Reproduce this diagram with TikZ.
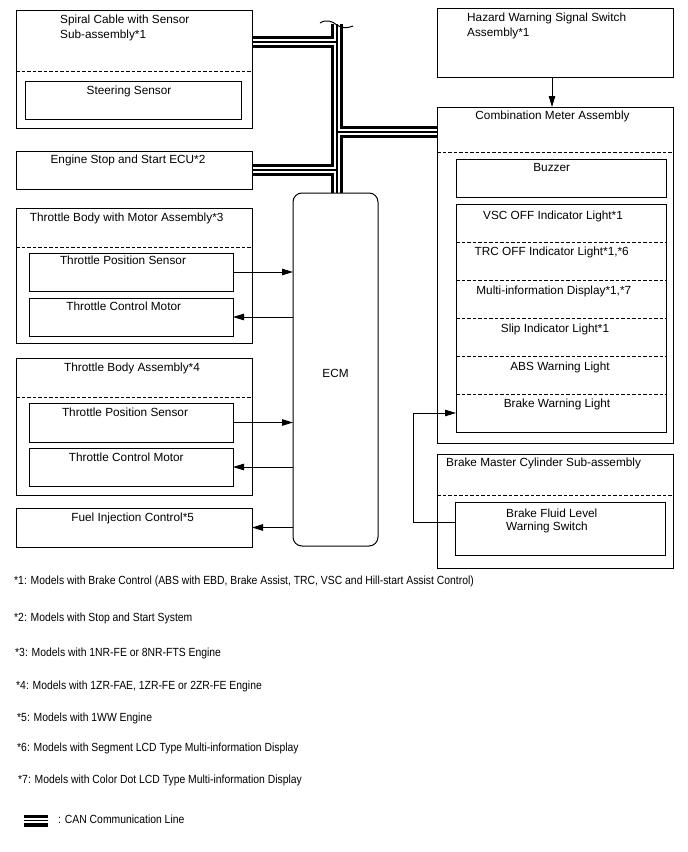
\documentclass[tikz,border=0pt]{standalone}
\usepackage{fontspec}
\setmainfont{Liberation Sans}
\newfontfamily\notefont[FakeStretch=0.88]{Liberation Sans}
\usepackage{tikz}
\usetikzlibrary{arrows.meta,positioning,calc,backgrounds}
\newcommand{\boxfont}{\fontsize{11.8}{15}\selectfont}
\newcommand{\fluidfont}{\fontsize{11.8}{13.3}\selectfont}
\tikzset{
    unitbox/.style={draw,line width=1pt,anchor=north west,inner sep=0pt,outer sep=0pt},
    lbl/.style={inner sep=0pt,anchor=base,font=\boxfont},
    lbll/.style={inner sep=0pt,anchor=north west,align=left,font=\boxfont},
    note/.style={inner sep=0pt,anchor=base west,font=\notefont\fontsize{11.8}{14}\selectfont},
    sect/.style={line width=0.8pt,dash pattern=on 3.5pt off 2pt},
    sig/.style={-{Triangle[length=11pt,width=6.5pt]},line width=0.9pt},
    canout/.style={line width=12pt},
    canin/.style={white,line width=5.6pt},
    cancore/.style={line width=1.5pt}
}

\begin{document}
\begin{tikzpicture}[x=1pt,y=-1pt]
    \useasboundingbox (0,0) rectangle (688,852);

    % left side units
    \node[unitbox,minimum width=236pt,minimum height=118pt] (spiral) at (16,10) {};
    \node[unitbox,minimum width=216pt,minimum height=38pt] (steer) at (25,81) {};
    \node[unitbox,minimum width=236pt,minimum height=38pt] (ssecu) at (16,151) {};
    \node[unitbox,minimum width=236pt,minimum height=135pt] (tbmotor) at (16,208) {};
    \node[unitbox,minimum width=204pt,minimum height=38pt] (tpsa) at (29,253) {};
    \node[unitbox,minimum width=204pt,minimum height=38pt] (tcma) at (29,298) {};
    \node[unitbox,minimum width=236pt,minimum height=137pt] (tbody) at (16,358) {};
    \node[unitbox,minimum width=204pt,minimum height=39pt] (tpsb) at (29,403) {};
    \node[unitbox,minimum width=204pt,minimum height=38pt] (tcmb) at (29,448) {};
    \node[unitbox,minimum width=236pt,minimum height=39pt] (fuel) at (16,508) {};
    \node[unitbox,rounded corners=9pt,minimum width=85pt,minimum height=353pt] (ecm) at (293,193) {};

    % right side units
    \node[unitbox,minimum width=236pt,minimum height=69pt] (hazard) at (437,8) {};
    \node[unitbox,minimum width=236pt,minimum height=336pt] (meter) at (437,107) {};
    \node[unitbox,minimum width=210pt,minimum height=38pt] (buzzer) at (456,159) {};
    \node[unitbox,minimum width=210pt,minimum height=228pt] (lights) at (456,204) {};
    \node[unitbox,minimum width=236pt,minimum height=114pt] (master) at (437,454) {};
    \node[unitbox,minimum width=210pt,minimum height=53pt] (fluid) at (455,502) {};

    % dashed separators
    \draw[sect] (spiral.west |- 0,71) -- (spiral.east |- 0,71);
    \draw[sect] (tbmotor.west |- 0,247) -- (tbmotor.east |- 0,247);
    \draw[sect] (tbody.west |- 0,397) -- (tbody.east |- 0,397);
    \draw[sect] (meter.west |- 0,152) -- (meter.east |- 0,152);
    \draw[sect] (master.west |- 0,495) -- (master.east |- 0,495);
    \foreach \yy in {242,280,318,356,394}
        \draw[sect] (lights.west |- 0,\yy) -- (lights.east |- 0,\yy);

    % texts
    \node[lbll] (spiraltxt) at (60,15) {Spiral Cable with Sensor\\Sub-assembly*1};
    \node[lbl] (steertxt) at (129,94) {Steering Sensor};
    \node[lbl] (ssecutxt) at (128,163.5) {Engine Stop and Start ECU*2};
    \node[lbl] (tbmotortxt) at (126.7,221) {Throttle Body with Motor Assembly*3};
    \node[lbl] (tpsatxt) at (123,264) {Throttle Position Sensor};
    \node[lbl] (tcmatxt) at (123.7,310) {Throttle Control Motor};
    \node[lbl] (tbodytxt) at (132,371) {Throttle Body Assembly*4};
    \node[lbl] (tpsbtxt) at (125,416.7) {Throttle Position Sensor};
    \node[lbl] (tcmbtxt) at (126.3,461.7) {Throttle Control Motor};
    \node[lbl] (fueltxt) at (132.7,521) {Fuel Injection Control*5};
    \node[lbl] (ecmtxt) at (335.5,377.3) {ECM};
    \node[lbll] (hazardtxt) at (467,12.7) {Hazard Warning Signal Switch\\Assembly*1};
    \node[lbl] (metertxt) at (552.5,119.3) {Combination Meter Assembly};
    \node[lbl] (buzzertxt) at (551.7,171.7) {Buzzer};
    \node[lbl] (vsc) at (553,219.3) {VSC OFF Indicator Light*1};
    \node[lbl] (trc) at (551.7,255.7) {TRC OFF Indicator Light*1,*6};
    \node[lbl] (mid) at (553.8,294) {Multi-information Display*1,*7};
    \node[lbl] (slip) at (555,332.7) {Slip Indicator Light*1};
    \node[lbl] (abs) at (560,370) {ABS Warning Light};
    \node[lbl] (bwl) at (557,407.7) {Brake Warning Light};
    \node[lbl,anchor=base west] (mastertxt) at (446,466) {Brake Master Cylinder Sub-assembly};
    \node[lbll,font=\fluidfont] (fluidtxt) at (506,508.3) {Brake Fluid Level\\Warning Switch};

    % signal lines
    \draw[sig] (tpsa.east) -- (tpsa.east -| ecm.west);
    \draw[sig] (tcma.east -| ecm.west) -- (tcma.east);
    \draw[sig] (tpsb.east) -- (tpsb.east -| ecm.west);
    \draw[sig] (tcmb.east -| ecm.west) -- (tcmb.east);
    \draw[sig] (fuel.east -| ecm.west) -- (fuel.east);
    \draw[sig] ([xshift=-3pt]hazard.south) -- ([xshift=-3pt]meter.north);
    \draw[sig] ([yshift=6.5pt]fluid.west) -- ++(-42pt,0) |- ([yshift=19pt]lights.south west);

    % CAN bus
    \coordinate (cantop) at (337,24);
    \coordinate (canspiral) at (337,42);
    \coordinate (canmeter) at (337,132);
    \coordinate (lega) at (24,820.5);
    \coordinate (legb) at (48,820.5);
    \begin{scope}[on background layer]
        \fill[white] (0,0) rectangle (688,852);
        \foreach \layer in {canout,canin,cancore}{
            \draw[\layer] (cantop) -- (cantop |- ecm.north);
            \draw[\layer] ([yshift=27pt]spiral.east) -- (canspiral);
            \draw[\layer] (ssecu.east) -- (ssecu.east -| cantop);
            \draw[\layer] (canmeter) -- (canmeter -| meter.west);
            \draw[\layer] (lega) -- (legb);
        }
    \end{scope}
    \draw[line width=1pt] (320,23) .. controls (326,19) and (332,21) .. (337,25)
        .. controls (342,29) and (348,28) .. (353,26);

    % notes
    \node[note] (n1) at (14,584.3) {*1: Models with Brake Control (ABS with EBD, Brake Assist, TRC, VSC and Hill-start Assist Control)};
    \node[note] (n2) at (14,621) {*2: Models with Stop and Start System};
    \node[note] (n3) at (15,656) {*3: Models with 1NR-FE or 8NR-FTS Engine};
    \node[note] (n4) at (16,689.3) {*4: Models with 1ZR-FAE, 1ZR-FE or 2ZR-FE Engine};
    \node[note] (n5) at (17,721) {*5: Models with 1WW Engine};
    \node[note] (n6) at (17,751) {*6: Models with Segment LCD Type Multi-information Display};
    \node[note] (n7) at (18,783.3) {*7: Models with Color Dot LCD Type Multi-information Display};
    \node[note] (legtxt) at (58,823.3) {: CAN Communication Line};
\end{tikzpicture}
\end{document}
